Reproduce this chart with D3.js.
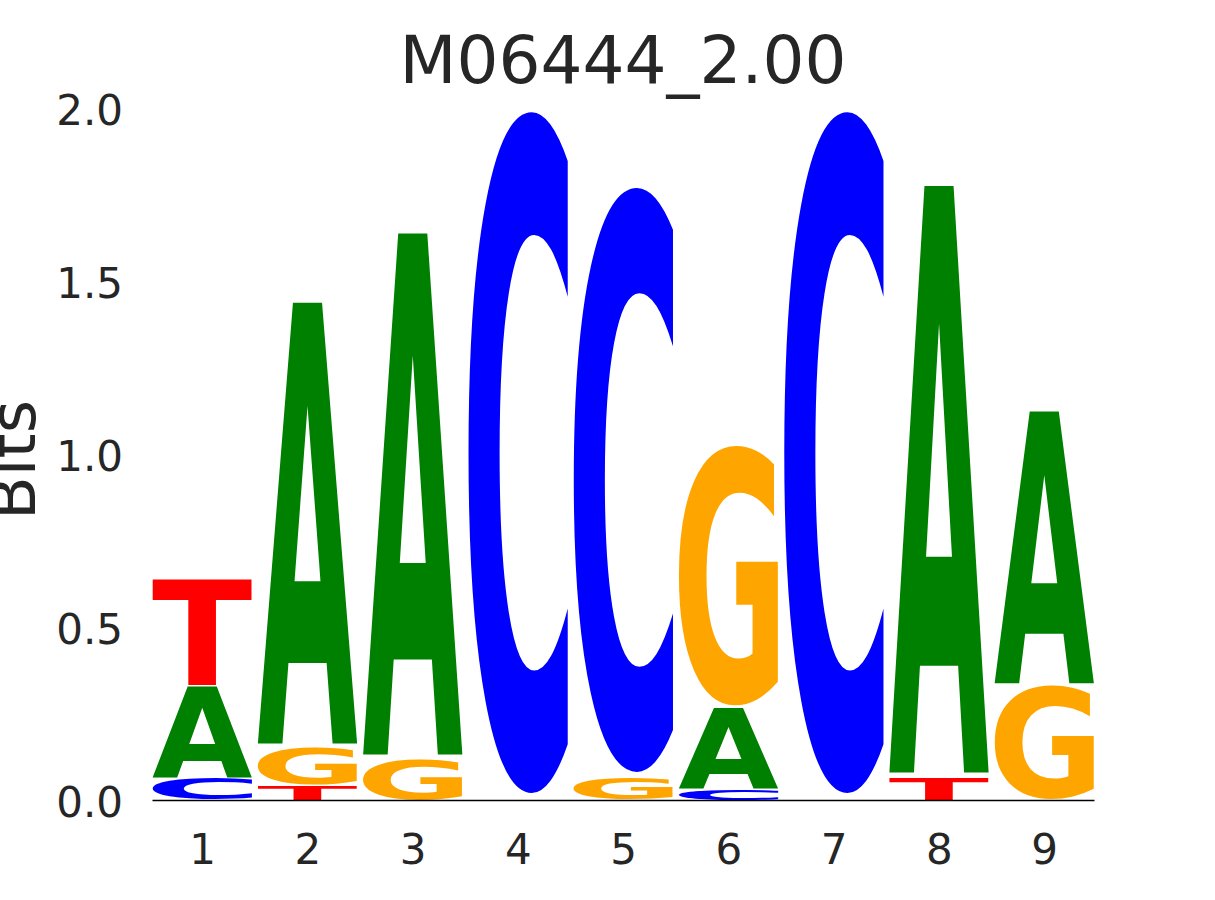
<!DOCTYPE html>
<html>
<head>
<meta charset="utf-8">
<script src="https://cdn.jsdelivr.net/npm/d3@7"></script>
<style>
    body { margin: 0; background: #fff; }
    svg { display: block; }
</style>
</head>
<body>
<svg id="logo" width="1215" height="900"></svg>
<script>
// motif positions and letter heights (bits)
const positions = [1, 2, 3, 4, 5, 6, 7, 8, 9];
const bitsA = [0.265, 1.287, 1.521, 0, 0, 0.236, 0, 1.713, 0.794];
const bitsC = [0.062, 0, 0, 1.995, 1.711, 0.030, 1.995, 0, 0];
const bitsG = [0, 0.110, 0.118, 0, 0.064, 0.760, 0, 0, 0.330];
const bitsT = [0.309, 0.042, 0, 0, 0, 0, 0, 0.064, 0];
const yTicks = [0, 0.5, 1.0, 1.5, 2.0];
const title = "M06444_2.00";

const colors = {A: "#008000", C: "#0000ff", G: "#ffa500", T: "#ff0000"};

let svg = d3.select("#logo");
let textColor = "#262626";

let xScale = d3.scaleLinear()
    .domain([0.525, 9.475])
    .range([152, 1094]);
let yScale = d3.scaleLinear()
    .domain([0, 2])
    .range([800, 108]);

// measure tight glyph boxes so each letter can be stretched to its slot
let glyphFont = "bold 200px 'DejaVu Sans'";
let ctx = document.createElement("canvas").getContext("2d");
ctx.font = glyphFont;
let boxes = {};
["A", "C", "G", "T"].forEach(l => {
    let m = ctx.measureText(l);
    boxes[l] = {
        x0: -m.actualBoundingBoxLeft,
        x1: m.actualBoundingBoxRight,
        y0: -m.actualBoundingBoxAscent,
        y1: m.actualBoundingBoxDescent
    };
});

// build stacks, smallest letter at the bottom
let stacks = [];
positions.forEach((p, i) => {
    let col = [
        {letter: "A", h: bitsA[i]},
        {letter: "C", h: bitsC[i]},
        {letter: "G", h: bitsG[i]},
        {letter: "T", h: bitsT[i]}
    ].filter(d => d.h > 0)
     .sort((a, b) => a.h - b.h);
    let base = 0;
    col.forEach(d => {
        stacks.push({pos: p, letter: d.letter, y0: base, y1: base + d.h});
        base += d.h;
    });
});

let width = 0.95;
let vpad = 0.009;

svg.append("g")
    .attr("id", "glyphs")
    .selectAll("text")
    .data(stacks)
    .enter()
    .append("text")
    .text(d => d.letter)
    .attr("x", 0)
    .attr("y", 0)
    .style("font", glyphFont)
    .attr("fill", d => colors[d.letter])
    .attr("transform", d => {
        let b = boxes[d.letter];
        let left = xScale(d.pos - width / 2);
        let right = xScale(d.pos + width / 2);
        let pad = (d.y1 - d.y0) * vpad;
        let top = yScale(d.y1);
        let bottom = yScale(d.y0 + pad);
        let sx = (right - left) / (b.x1 - b.x0);
        let sy = (bottom - top) / (b.y1 - b.y0);
        return `translate(${left},${top}) scale(${sx},${sy}) translate(${-b.x0},${-b.y0})`;
    });

// x axis with baseline
let xAxis = d3.axisBottom(xScale)
    .tickValues(positions)
    .tickFormat(d3.format("d"))
    .tickSize(0)
    .tickPadding(34);

let gx = svg.append("g")
    .attr("transform", "translate(0,800)")
    .call(xAxis);
gx.select(".domain").attr("stroke", "#000").attr("stroke-width", 1.3);
gx.selectAll("text")
    .attr("font-family", "DejaVu Sans")
    .attr("font-size", 42)
    .attr("fill", textColor);

// y axis, labels only
let yAxis = d3.axisLeft(yScale)
    .tickValues(yTicks)
    .tickFormat(d3.format(".1f"))
    .tickSize(0)
    .tickPadding(29);

let gy = svg.append("g")
    .attr("transform", "translate(152,3)")
    .call(yAxis);
gy.select(".domain").remove();
gy.selectAll("text")
    .attr("font-family", "DejaVu Sans")
    .attr("font-size", 42)
    .attr("fill", textColor);

// y label
svg.append("text")
    .attr("transform", "translate(35,460) rotate(-90)")
    .attr("text-anchor", "middle")
    .attr("font-family", "DejaVu Sans")
    .attr("font-size", 64)
    .attr("fill", textColor)
    .text("Bits");

// title
svg.append("text")
    .attr("x", 623)
    .attr("y", 83)
    .attr("text-anchor", "middle")
    .attr("font-family", "DejaVu Sans")
    .attr("font-size", 66)
    .attr("fill", textColor)
    .text(title);
</script>
</body>
</html>
